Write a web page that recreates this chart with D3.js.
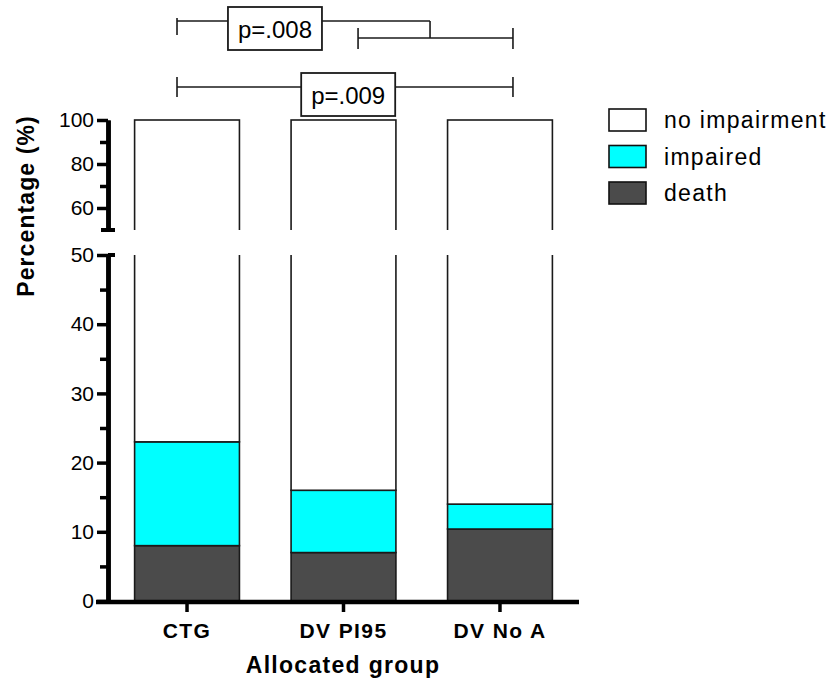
<!DOCTYPE html>
<html>
<head>
<meta charset="utf-8">
<script src="https://cdn.jsdelivr.net/npm/d3@7"></script>
<style>
  body { margin: 0; background: #fff; }
  svg { font-family: "Liberation Sans", Arial, sans-serif; }
  .tick-label { font-size: 21px; fill: #000; }
</style>
</head>
<body>
<div class="chart"></div>
<script>
// data
const categories = ["CTG", "DV PI95", "DV No A"];
const death = [8, 7, 10.4];
const impaired = [15, 9, 3.6];
const noImpairment = [77, 84, 86];
const seriesKeys = ["death", "impaired", "no impairment"];
const seriesColors = ["#4b4b4b", "#00ffff", "#ffffff"];
const legendOrder = ["no impairment", "impaired", "death"];
const lowerMajorTicks = [0, 10, 20, 30, 40, 50];
const lowerMinorTicks = [5, 15, 25, 35, 45];
const upperMajorTicks = [60, 80, 100];
const upperMinorTicks = [70, 90];
// significance brackets, ends given in category index units
const brackets = [
  {from: -0.064, to: 1.553, level: 0, label: "p=.008", labelAt: 0.562, leftDrop: [-3, 14], rightDrop: [0, 17]},
  {from: 1.093, to: 2.083, level: 1, label: null, leftDrop: [-10, 11], rightDrop: [-10, 11]},
  {from: -0.064, to: 2.083, level: 2, label: "p=.009", labelAt: 1.03, leftDrop: [-10, 10], rightDrop: [-10, 10]}
];
const bracketY = [21, 38, 87];

const svg_width = 833;
const svg_height = 681;
const axis_x = 108;

const tableData = categories.map((c, i) => ({
  group: c, "death": death[i], "impaired": impaired[i], "no impairment": noImpairment[i]
}));
const stacked = d3.stack().keys(seriesKeys)(tableData);
const color = d3.scaleOrdinal(seriesKeys, seriesColors);

const svg = d3.select(".chart").append("svg")
  .attr("width", svg_width).attr("height", svg_height);

// scales: broken y axis, two panels
const xScale = d3.scaleBand().domain(categories)
  .range([axis_x, 579]).paddingInner(0.33).paddingOuter(0.17);
const yLow = d3.scaleLinear([0, 50], [601, 255]);
const yHigh = d3.scaleLinear([50, 100], [230, 120]);

const defs = svg.append("defs");
defs.append("clipPath").attr("id", "clip-low").append("rect")
  .attr("x", 0).attr("y", yLow(50)).attr("width", svg_width).attr("height", yLow(0) - yLow(50) + 2);
defs.append("clipPath").attr("id", "clip-high").append("rect")
  .attr("x", 0).attr("y", yHigh(100) - 3).attr("width", svg_width).attr("height", yHigh(50) - yHigh(100) + 3);

function drawBars(scale, clipId) {
  const g = svg.append("g").attr("clip-path", `url(#${clipId})`);
  g.selectAll("g.series").data(stacked).join("g")
    .attr("class", "series")
    .attr("fill", d => color(d.key))
    .selectAll("rect").data(d => d).join("rect")
    .attr("x", d => xScale(d.data.group))
    .attr("y", d => scale(d[1]))
    .attr("width", xScale.bandwidth())
    .attr("height", d => scale(d[0]) - scale(d[1]))
    .attr("stroke", "#1a1a1a")
    .attr("stroke-width", 1.6);
}
drawBars(yLow, "clip-low");
drawBars(yHigh, "clip-high");

// y axes
function drawAxis(scale, major, minor) {
  const g = svg.append("g").attr("transform", `translate(${axis_x},0)`);
  const majorAxis = d3.axisLeft(scale).tickValues(major).tickSize(11).tickPadding(3).tickSizeOuter(0);
  const minorAxis = d3.axisLeft(scale).tickValues(minor).tickSize(8).tickFormat("").tickSizeOuter(0);
  const a = g.append("g").call(majorAxis);
  g.append("g").call(minorAxis);
  g.selectAll("path.domain").attr("stroke", "#000").attr("stroke-width", 4.5);
  g.selectAll(".tick line").attr("stroke", "#000").attr("stroke-width", 3.5);
  a.selectAll("text").attr("class", "tick-label").attr("font-size", null).attr("font-family", null)
    .attr("fill", "#000").attr("x", -14);
  g.selectAll("g").attr("font-size", null).attr("font-family", null);
  return g;
}
drawAxis(yLow, lowerMajorTicks, lowerMinorTicks);
drawAxis(yHigh, upperMajorTicks, upperMinorTicks);

// break caps
svg.append("line").attr("x1", axis_x - 7).attr("x2", axis_x + 7)
  .attr("y1", yHigh(50)).attr("y2", yHigh(50)).attr("stroke", "#000").attr("stroke-width", 4);
svg.append("line").attr("x1", axis_x).attr("x2", axis_x + 7)
  .attr("y1", yLow(50)).attr("y2", yLow(50)).attr("stroke", "#000").attr("stroke-width", 4);

// x axis
const xAxis = d3.axisBottom(xScale).tickSize(10).tickSizeOuter(0).tickPadding(12);
const xAxisDraw = svg.append("g").attr("transform", `translate(0,${yLow(0) + 1})`).call(xAxis);
xAxisDraw.select("path.domain").attr("d", `M${axis_x - 12},0H${xScale.range()[1]}`)
  .attr("stroke", "#000").attr("stroke-width", 4.5);
xAxisDraw.selectAll(".tick line").attr("stroke", "#000").attr("stroke-width", 3.5);
xAxisDraw.selectAll("text").attr("fill", "#000")
  .style("font-size", "21px").style("font-weight", "bold").style("letter-spacing", "1.4px")
  .attr("font-family", null).attr("y", 21);
xAxisDraw.attr("font-family", null).attr("font-size", null);

// axis titles
svg.append("text")
  .attr("x", 343).attr("y", 673)
  .style("text-anchor", "middle").style("font-size", "23px").style("font-weight", "bold")
  .style("letter-spacing", "1.3px")
  .text("Allocated group");

svg.append("text")
  .attr("transform", "translate(34,206) rotate(-90)")
  .style("text-anchor", "middle").style("font-size", "23px").style("font-weight", "bold")
  .style("letter-spacing", "1.1px")
  .text("Percentage (%)");

// legend
const legend = svg.append("g").attr("transform", "translate(609,109)");
const legendItems = legend.selectAll("g").data(legendOrder).join("g")
  .attr("transform", (d, i) => `translate(0,${i * 36.5})`);
legendItems.append("rect")
  .attr("width", 37).attr("height", 22)
  .attr("fill", d => color(d)).attr("stroke", "#111").attr("stroke-width", 1.6);
legendItems.append("text")
  .attr("x", 55).attr("y", 19)
  .style("font-size", "23px").style("letter-spacing", "1.3px")
  .text(d => d);

// significance brackets
const idx = d3.scaleLinear([0, 2], [xScale("CTG") + xScale.bandwidth() / 2, xScale("DV No A") + xScale.bandwidth() / 2]);
const bg = svg.append("g").attr("stroke", "#1a1a1a").attr("stroke-width", 1.6).attr("fill", "none");
brackets.forEach(b => {
  const y = bracketY[b.level];
  bg.append("line").attr("x1", idx(b.from)).attr("x2", idx(b.to)).attr("y1", y).attr("y2", y);
  bg.append("line").attr("x1", idx(b.from)).attr("x2", idx(b.from))
    .attr("y1", y + b.leftDrop[0]).attr("y2", y + b.leftDrop[1]);
  bg.append("line").attr("x1", idx(b.to)).attr("x2", idx(b.to))
    .attr("y1", y + b.rightDrop[0]).attr("y2", y + b.rightDrop[1]);
  if (b.label) {
    const cx = idx(b.labelAt);
    svg.append("rect")
      .attr("x", cx - 47).attr("y", y - 14).attr("width", 94).attr("height", 43)
      .attr("fill", "#fff").attr("stroke", "#1a1a1a").attr("stroke-width", 1.8);
    svg.append("text")
      .attr("x", cx).attr("y", y + 17)
      .style("text-anchor", "middle").style("font-size", "24px")
      .text(b.label);
  }
});
</script>
</body>
</html>
